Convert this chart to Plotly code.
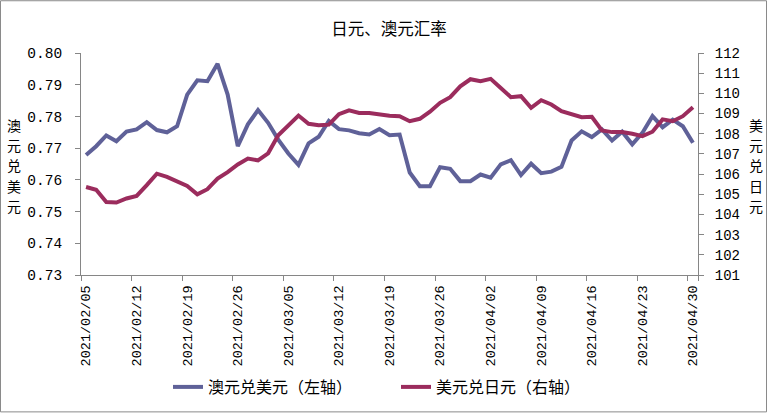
import pandas as pd
import plotly.graph_objects as go

# categories: trading days (weekdays) 2021/02/05 .. 2021/04/30
dates = [d.strftime("%Y/%m/%d") for d in pd.bdate_range("2021-02-05", "2021-04-30")]

aud_usd = [0.7678, 0.7706, 0.7740, 0.7722, 0.7752, 0.7759, 0.7782, 0.7757, 0.7750, 0.7769,
           0.7869, 0.7914, 0.7911, 0.7966, 0.7869, 0.7706, 0.7775, 0.7820, 0.7780, 0.7727,
           0.7683, 0.7647, 0.7715, 0.7736, 0.7786, 0.7760, 0.7756, 0.7747, 0.7743, 0.7760,
           0.7741, 0.7743, 0.7623, 0.7580, 0.7580, 0.7640, 0.7635, 0.7596, 0.7596, 0.7617,
           0.7607, 0.7649, 0.7662, 0.7615, 0.7651, 0.7621, 0.7626, 0.7641, 0.7724, 0.7753,
           0.7735, 0.7759, 0.7724, 0.7752, 0.7712, 0.7748, 0.7801, 0.7766, 0.7790, 0.7769,
           0.7717]

usd_jpy = [105.36, 105.22, 104.62, 104.59, 104.79, 104.92, 105.45, 106.02, 105.86, 105.66,
           105.41, 105.00, 105.25, 105.78, 106.10, 106.48, 106.77, 106.68, 107.03, 107.92,
           108.41, 108.90, 108.49, 108.42, 108.45, 108.97, 109.16, 109.03, 109.03, 108.95,
           108.89, 108.87, 108.62, 108.74, 109.09, 109.53, 109.81, 110.35, 110.70, 110.60,
           110.72, 110.27, 109.81, 109.86, 109.28, 109.66, 109.45, 109.12, 108.99, 108.82,
           108.84, 108.16, 108.08, 108.08, 108.00, 107.88, 108.10, 108.71, 108.62, 108.87,
           109.31]

title_text = "日元、澳元汇率"
left_title = "澳元兑美元"
right_title = "美元兑日元"
name_aud = "澳元兑美元（左轴）"
name_jpy = "美元兑日元（右轴）"

BLUE = "#5F6198"
RED = "#9B2C5D"
AXIS = "#868686"
CJK = "Noto Sans CJK SC"
NUM = "Liberation Mono"

fig = go.Figure()
fig.add_trace(go.Scatter(x=dates, y=aud_usd, name=name_aud, mode="lines",
                         line=dict(color=BLUE, width=4), yaxis="y"))
fig.add_trace(go.Scatter(x=dates, y=usd_jpy, name=name_jpy, mode="lines",
                         line=dict(color=RED, width=4), yaxis="y2"))

L, R, T, B = 81, 70, 53, 139
W, H = 768, 415
pw, ph = W - L - R, H - T - B

fig.update_layout(
    width=W, height=H,
    margin=dict(l=L, r=R, t=T, b=B, pad=0),
    paper_bgcolor="white", plot_bgcolor="white",
    font=dict(family=CJK, size=16, color="#000000"),
    title=dict(text=title_text, x=(389 - L) / pw, xref="paper", xanchor="center",
               y=1 - 29 / H, yanchor="middle", font=dict(family=CJK, size=16.5, color="#000")),
    xaxis=dict(type="category", range=[-0.5, len(dates) - 0.5],
               tickmode="array", tickvals=dates[::5], ticktext=dates[::5],
               tickson="boundaries", ticks="outside", ticklen=5, tickcolor=AXIS,
               tickangle=-90, tickfont=dict(family=NUM, size=13.5, color="#000"),
               showline=True, linecolor=AXIS, linewidth=1, showgrid=False, zeroline=False,
               ticklabelstandoff=4),
    yaxis=dict(range=[0.73, 0.80], dtick=0.01, tickformat=".2f",
               ticks="outside", ticklen=5, tickcolor=AXIS,
               showline=True, linecolor=AXIS, linewidth=1, showgrid=False, zeroline=False,
               tickfont=dict(family=NUM, size=14.5, color="#000"), ticklabelstandoff=10),
    yaxis2=dict(range=[101, 112], dtick=1, overlaying="y", side="right",
                ticks="outside", ticklen=5, tickcolor=AXIS,
                showline=True, linecolor=AXIS, linewidth=1, showgrid=False, zeroline=False,
                tickfont=dict(family=NUM, size=14, color="#000"), ticklabelstandoff=8),
    legend=dict(orientation="h", x=(168 - L) / pw, xanchor="left",
                y=(T + ph - 387) / ph, yanchor="middle",
                font=dict(family=CJK, size=16, color="#000"),
                entrywidth=183, entrywidthmode="pixels", bgcolor="rgba(0,0,0,0)"),
    showlegend=True,
)

# vertical axis titles, one character per line
for txt, xc in ((left_title, 14), (right_title, 756)):
    for k, ch in enumerate(txt):
        fig.add_annotation(text=ch, xref="paper", yref="paper",
                           x=(xc - L) / pw, y=(T + ph - (125 + 20.5 * k)) / ph,
                           xanchor="center", yanchor="middle", showarrow=False,
                           borderpad=0, font=dict(family=CJK, size=14, color="#000"))

# outer chart border
fig.add_shape(type="rect", xref="paper", yref="paper",
              x0=(0.5 - L) / pw, x1=(W - 1.5 - L) / pw,
              y0=(T + ph - (H - 1.5)) / ph, y1=(T + ph - 0.5) / ph,
              line=dict(color="#8A8A8A", width=1), fillcolor="rgba(0,0,0,0)", layer="below")

fig.write_html("out.html")
